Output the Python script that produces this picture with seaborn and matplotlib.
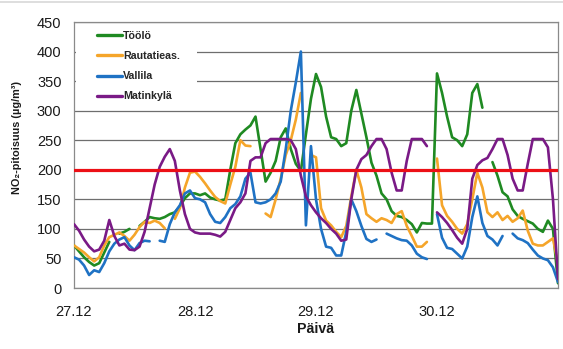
import numpy as np
import pandas as pd
import matplotlib
matplotlib.use("Agg")
import matplotlib.pyplot as plt
import seaborn as sns
from matplotlib.patches import Rectangle
from matplotlib.lines import Line2D

nan = np.nan

# ---------------- data ----------------
hours = list(range(97))                      # hourly values from 27.12 00:00
tick_hours = [0, 12, 24, 36, 48, 60, 72, 84, 96]
tick_labels = ["27.12", "", "28.12", "", "29.12", "", "30.12", "", ""]
series_names = ["Töölö", "Rautatieas.", "Vallila", "Matinkylä"]
series_colors = ["#1f8a22", "#f5a52a", "#1f72c4", "#7a1a86"]
limit_value = 200
y_ticks = [0, 50, 100, 150, 200, 250, 300, 350, 400, 450]

toolo = [72, 62, 52, 44, 38, 42, 60, 78, nan, 92,
         95, 100, nan, 105, 112, 120, 118, 117, 120, 125,
         128, 138, 152, 160, 160, 157, 160, 153, 150, 148,
         150, 200, 245, 260, 268, 275, 290, 235, 180, 195,
         215, 255, 270, 235, 210, 198, 260, 320, 362, 340,
         290, 255, 252, 240, 245, 300, 335, 295, 255, 212,
         190, 160, 150, 130, 122, 120, 115, 108, 94, 110,
         109, 109, 363, 330, 290, 255, 250, 240, 260, 330,
         345, 305, nan, 213, 190, 162, 155, 133, 122, 117,
         113, 109, 100, 95, 114, 100, 8]

rautatieas = [72, 66, 60, 52, 45, 52, 72, 86, 90, 94,
              88, 80, 90, 103, 112, 110, 114, 110, 101, nan,
              117, 135, 170, 195, 197, 188, 177, 165, 154, 147,
              143, 175, 205, 250, 241, 240, nan, nan, 126, 120,
              150, 185, 225, 250, 285, 330, nan, 225, 221, 135,
              114, 106, 95, 86, 105, 155, 200, 170, 125, 118,
              112, 118, 115, 110, 125, 130, 105, 88, 70, 70,
              78, nan, 219, 140, 122, 112, 100, 92, 108, 150,
              195, 170, 128, 120, 128, 115, 122, 112, 118, 131,
              97, 75, 72, 72, 78, 84, 40]

vallila = [52, 48, 38, 22, 30, 27, 42, 62, 75, 82,
           86, 72, 64, 76, 80, 79, nan, 80, 78, 108,
           128, 140, 160, 165, 152, 150, 145, 125, 112, 110,
           120, 135, 142, 155, 185, 195, 145, 143, 145, 150,
           160, 180, 235, 300, 348, 400, 106, 240, 150, 100,
           70, 68, 55, 55, 95, 150, 130, 105, 83, 78,
           82, nan, 92, 88, 84, 81, 80, 72, 58, 52,
           49, nan, 125, 85, 68, 66, 58, 50, 70, 120,
           155, 110, 88, 82, 72, 88, nan, 92, 84, 81,
           76, 65, 55, 50, 47, 35, 10]

matinkyla = [108, 97, 82, 70, 62, 65, 80, 115, 88, 72,
             75, 65, 64, 70, 95, 135, 175, 205, 222, 235,
             215, 165, 125, 100, 94, 92, 92, 92, 90, 87,
             95, 115, 135, 145, 160, 215, 221, 221, 245, 252,
             252, 252, 252, 250, 235, 190, 155, 140, 128, 118,
             110, 100, 92, 80, 82, 150, 200, 218, 225, 240,
             252, 252, 235, 195, 165, 165, 215, 252, 252, 252,
             240, nan, 128, 120, 110, 98, 85, 75, 100, 185,
             208, 216, 220, 235, 252, 252, 225, 185, 165, 165,
             210, 252, 252, 252, 238, 150, 15]

all_series = [toolo, rautatieas, vallila, matinkyla]

# long table; missing hours split a line into separate segments (units)
rows = []
for name, vals in zip(series_names, all_series):
    seg = 0
    gap = True
    for h, v in zip(hours, vals):
        if np.isnan(v):
            gap = True
            continue
        if gap:
            seg += 1
            gap = False
        rows.append({"hour": h, "value": v, "station": name,
                     "segment": f"{name}-{seg}"})
df = pd.DataFrame(rows)

# ---------------- style ----------------
sns.set_theme(style="white")
plt.rcParams["font.family"] = ["Liberation Sans", "DejaVu Sans"]

W, H = 563, 349
fig = plt.figure(figsize=(W / 100, H / 100), dpi=100)
ax_l, ax_r, ax_t, ax_b = 74, 558, 22, 288
ax = fig.add_axes([ax_l / W, 1 - ax_b / H, (ax_r - ax_l) / W, (ax_b - ax_t) / H])

palette = dict(zip(series_names, series_colors))
sns.lineplot(data=df, x="hour", y="value", hue="station", units="segment",
             estimator=None, hue_order=series_names, palette=palette,
             linewidth=1.9, ax=ax, legend=False, zorder=3)

ax.axhline(limit_value, color="#ec1016", linewidth=2.3, zorder=6)

ax.set_xlim(0, 96)
ax.set_ylim(0, 450)
ax.set_yticks(y_ticks)
ax.set_xticks(tick_hours)
ax.set_xticklabels(tick_labels)
ax.set_xlabel("")
ax.set_ylabel("")
ax.yaxis.grid(True, color="#6e6e6e", linewidth=0.9)
ax.set_axisbelow(True)
for sp in ax.spines.values():
    sp.set_color("#8a8a8a")
    sp.set_linewidth(0.9)
ax.tick_params(axis="both", direction="out", length=4, width=0.8,
               color="#7a7a7a", labelsize=10.5, labelcolor="#1a1a1a")
ax.tick_params(axis="y", pad=5)
ax.tick_params(axis="x", pad=8)

# white legend area covering gridlines
ax.add_patch(Rectangle((0.004, (ax_b - 108) / (ax_b - ax_t)),
                       (195 - ax_l) / (ax_r - ax_l), (108 - 24) / (ax_b - ax_t),
                       transform=ax.transAxes, facecolor="white",
                       edgecolor="none", zorder=1))

handles = [Line2D([], [], color=c, linewidth=2.4) for c in series_colors]
ax.legend(handles, series_names, loc="upper left",
          bbox_to_anchor=((97 - ax_l) / (ax_r - ax_l), (ax_b - 31) / (ax_b - ax_t)),
          borderaxespad=0, borderpad=0, frameon=False, handlelength=2.3,
          handletextpad=0.15, labelspacing=0.95,
          prop={"weight": "bold", "size": 7.7})

# faint outer chart border line at the top
fig.add_artist(Line2D([0, 1], [1 - 2 / H, 1 - 2 / H], color="#d8d8d8",
                      linewidth=1.2))

fig.text(17 / W, 1 - 137 / H, "NO₂-pitoisuus (µg/m³)", rotation=90,
         ha="center", va="center", fontweight="bold", fontsize=7.8,
         color="#1a1a1a")
fig.text(316 / W, 1 - 329 / H, "Päivä", ha="center", va="center",
         fontweight="bold", fontsize=10.2, color="#1a1a1a")

fig.savefig("out.png", dpi=100)
